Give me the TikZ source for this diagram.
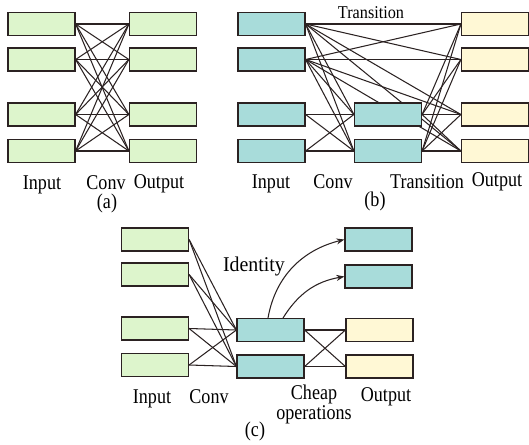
\documentclass[tikz,border=0pt]{standalone}
\usepackage{fontspec}
\setmainfont{Liberation Serif}
\usetikzlibrary{backgrounds,arrows.meta}
\definecolor{fgreen}{HTML}{DDF5CC}
\definecolor{fcyan}{HTML}{A8DCDA}
\definecolor{fyellow}{HTML}{FFF8D5}
\definecolor{edgec}{HTML}{2B2222}
\tikzset{
  fmap/.style={draw=edgec, line width=1.2pt, minimum width=67pt, minimum height=23pt, inner sep=0pt},
  gmap/.style={fmap, fill=fgreen},
  cmap/.style={fmap, fill=fcyan},
  ymap/.style={fmap, fill=fyellow},
  link/.style={draw=edgec, line width=1.05pt},
  lbl/.style={font=\fontsize{21}{21}\selectfont, inner sep=0pt, anchor=base, xscale=0.86},
  smalllbl/.style={font=\fontsize{18}{18}\selectfont, inner sep=0pt, anchor=base, xscale=0.9},
}
\begin{document}
\begin{tikzpicture}[x=1pt,y=-1pt]
\useasboundingbox (0,0) rectangle (529,444);

% ---------- (a) plain convolution ----------
\foreach \i/\y in {1/24,2/59.5,3/114.5,4/151}{
  \node[gmap] (a-in\i) at (41.5,\y) {};
  \node[gmap] (a-out\i) at (163,\y) {};
}
\begin{scope}[on background layer]
\foreach \i in {1,...,4}{
  \foreach \j in {1,...,4}{
    \draw[link] (a-in\i.east) -- (a-out\j.west);
  }
}
\end{scope}
\node[lbl] (a-l1) at (42,189.5) {Input};
\node[lbl] (a-l2) at (106,189.5) {Conv};
\node[lbl] (a-l3) at (159,188) {Output};
\node[lbl] (a-cap) at (107,208) {(a)};

% ---------- (b) convolution with transition ----------
\foreach \i/\y in {1/24,2/59.5,3/114.5,4/151}{
  \node[cmap] (b-in\i) at (271.5,\y) {};
  \node[ymap] (b-out\i) at (495,\y) {};
}
\node[cmap] (b-mid1) at (388,114.5) {};
\node[cmap] (b-mid2) at (388,151) {};
\begin{scope}[on background layer]
\foreach \i in {3,4}{
  \foreach \j in {1,2}{
    \draw[link] (b-in\i.east) -- (b-mid\j.west);
  }
}
\foreach \i in {1,2}{
  \foreach \j in {1,2}{
    \draw[link] (b-in\i.east) -- (b-mid\j.west);
  }
  \foreach \j in {1,...,4}{
    \draw[link] (b-in\i.east) -- (b-out\j.west);
  }
}
\foreach \i in {1,2}{
  \foreach \j in {1,...,4}{
    \draw[link] (b-mid\i.east) -- (b-out\j.west);
  }
}
\end{scope}
\node[smalllbl] (b-top) at (371,18.5) {Transition};
\node[lbl] (b-l1) at (271,188) {Input};
\node[lbl] (b-l2) at (333,188) {Conv};
\node[lbl] (b-l3) at (427,188) {Transition};
\node[lbl] (b-l4) at (497,186.5) {Output};
\node[lbl] (b-cap) at (375,206) {(b)};

% ---------- (c) conv followed by cheap operations ----------
\foreach \i/\y in {1/239.5,2/274.5,3/328.5,4/365}{
  \node[gmap] (c-in\i) at (155,\y) {};
}
\node[cmap] (c-mid1) at (270.5,330) {};
\node[cmap] (c-mid2) at (270.5,366.5) {};
\node[cmap] (c-id1) at (378.5,239.5) {};
\node[cmap] (c-id2) at (378.5,276.5) {};
\node[ymap] (c-out1) at (379.5,330) {};
\node[ymap] (c-out2) at (379.5,366.5) {};
\coordinate (c-s1) at (268,318);
\coordinate (c-s2) at (283,318);
\begin{scope}[on background layer]
\foreach \i in {1,...,4}{
  \foreach \j in {1,2}{
    \draw[link] (c-in\i.east) -- (c-mid\j.west);
  }
}
\foreach \i in {1,2}{
  \foreach \j in {1,2}{
    \draw[link] (c-mid\i.east) -- (c-out\j.west);
  }
}
\end{scope}
\draw[link,-{Stealth[length=8pt,width=6pt]}] (c-s1) to[out=80,in=194] (c-id1.west);
\draw[link,-{Stealth[length=8pt,width=6pt]}] (c-s2) to[out=58,in=190] (c-id2.west);
\node[lbl,xscale=1.1] (c-ident) at (254,271) {Identity};
\node[lbl] (c-l1) at (152,403) {Input};
\node[lbl] (c-l2) at (209,403) {Conv};
\node[lbl, align=center, font=\fontsize{21}{18}\selectfont] (c-l3) at (314,419) {Cheap\\operations};
\node[lbl] (c-l4) at (386,401.5) {Output};
\node[lbl] (c-cap) at (255,436) {(c)};
\end{tikzpicture}
\end{document}
